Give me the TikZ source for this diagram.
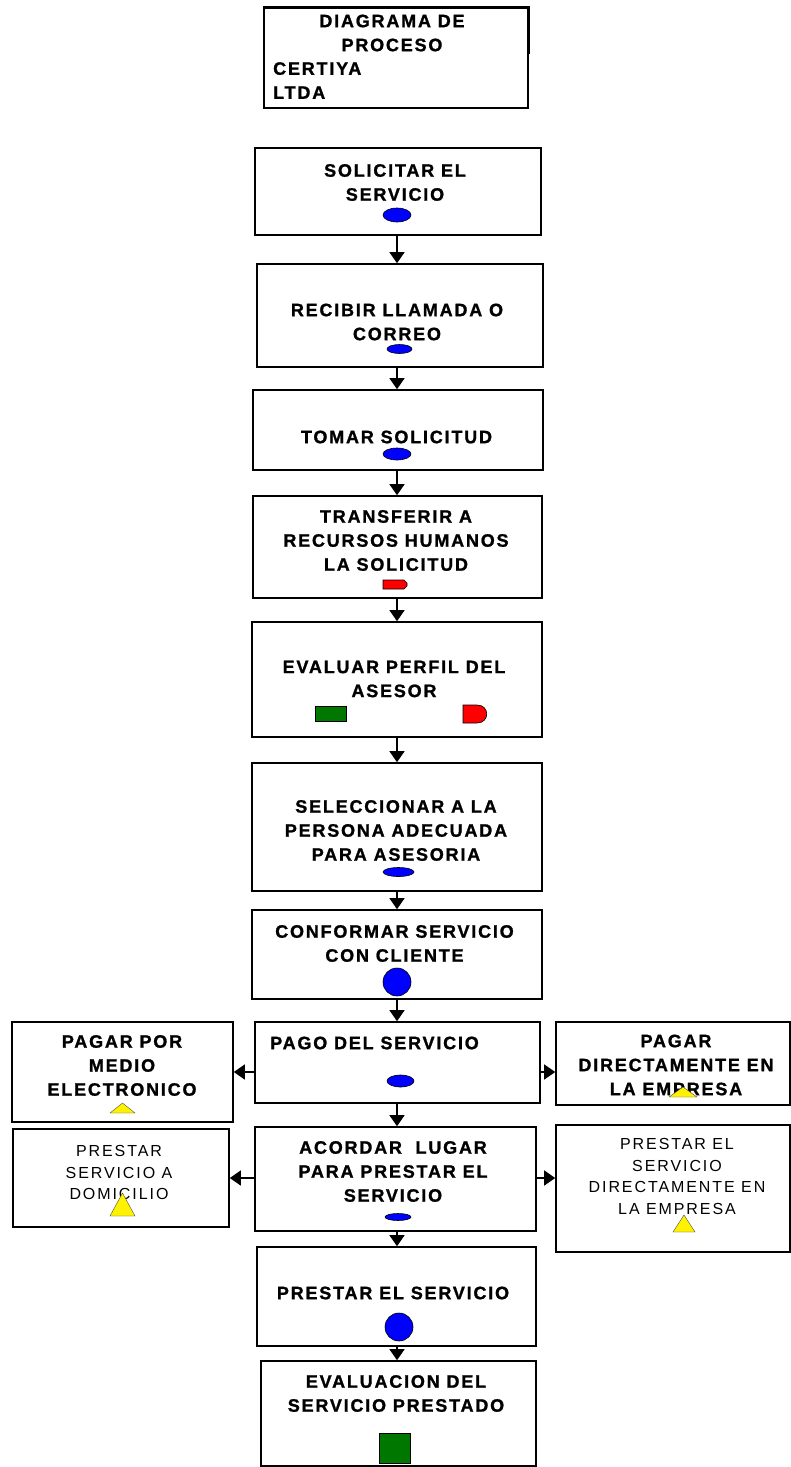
\documentclass[tikz,border=0pt]{standalone}
\usepackage{fontspec}
\newfontfamily\stepfont[LetterSpace=10, BoldFeatures={FakeBold=1.2}]{Liberation Sans}
\newfontfamily\thinfont[LetterSpace=12]{Liberation Sans}
\usetikzlibrary{arrows.meta,fit}
\definecolor{stepgreen}{RGB}{0,120,0}
\tikzset{
  stepbox/.style={draw, line width=1.6pt, inner sep=0pt},
  boldtext/.style={font=\fontsize{18}{24}\selectfont\stepfont\bfseries, align=center, inner sep=0pt},
  thintext/.style={font=\fontsize{16}{21.5}\selectfont\thinfont, align=center, inner sep=0pt},
  flow/.style={line width=1.3pt, -{Triangle[width=15pt,length=11pt]}},
  blueicon/.style={draw=black, line width=0.6pt, fill=blue},
  redicon/.style={draw=black, line width=0.6pt, fill=red},
  greenicon/.style={draw=black, line width=0.6pt, fill=stepgreen},
  yellowicon/.style={draw=black!70, line width=0.4pt, fill=yellow}
}
\begin{document}
\begin{tikzpicture}[x=1pt,y=-1pt]
\useasboundingbox (0,0) rectangle (791,1467);
\coordinate (axis) at (397,0);
% boxes
\foreach \n/\xa/\ya/\xb/\yb in {title/264/8/528/108, solic/255/148/541/235, recib/257/264/543/367,
  tomar/253/390/543/470, transf/253/496/542/598, evalp/252/622/542/737, selec/252/763/542/891,
  conf/252/910/542/999, pago/255/1022/540/1103, acord/255/1127/536/1231, prest/257/1247/536/1346,
  evals/261/1361/536/1466, pelec/12/1022/233/1122, pdir/556/1022/790/1105,
  pdom/13/1129/229/1227, pemp/556/1125/790/1252}
  \node[stepbox, fit={(\xa,\ya) (\xb,\yb)}] (\n) {};
\draw[line width=2.5pt] (title.north west) -- (title.north east) -- ([yshift=-47pt]title.north east);
% texts
\node[boldtext] (ttitle) at (392,33) {DIAGRAMA DE\\PROCESO};
\node[boldtext, align=left, anchor=west] (tfirm) at (273,80.5) {CERTIYA\\LTDA};
\node[boldtext] (tsolic) at (395,182.5) {SOLICITAR EL\\SERVICIO};
\node[boldtext] (trecib) at (397,322) {RECIBIR LLAMADA O\\CORREO};
\node[boldtext] (ttomar) at (396.5,437) {TOMAR SOLICITUD};
\node[boldtext] (ttransf) at (396,540.5) {TRANSFERIR A\\RECURSOS HUMANOS\\LA SOLICITUD};
\node[boldtext] (tevalp) at (394,679) {EVALUAR PERFIL DEL\\ASESOR};
\node[boldtext] (tselec) at (396,830.5) {SELECCIONAR A LA\\PERSONA ADECUADA\\PARA ASESORIA};
\node[boldtext] (tconf) at (394.5,943.5) {CONFORMAR SERVICIO\\CON CLIENTE};
\node[boldtext, anchor=west] (tpago) at (270,1043) {PAGO DEL SERVICIO};
\node[boldtext] (tacord) at (393,1171.5) {ACORDAR\ \ LUGAR\\PARA PRESTAR EL\\SERVICIO};
\node[boldtext] (tprest) at (393,1293) {PRESTAR EL SERVICIO};
\node[boldtext] (tevals) at (396,1393.5) {EVALUACION DEL\\SERVICIO PRESTADO};
\node[boldtext] (tpelec) at (122,1065.5) {PAGAR POR\\MEDIO\\ELECTRONICO};
\node[boldtext] (tpdir) at (676,1065) {PAGAR\\DIRECTAMENTE EN\\LA EMPRESA};
\node[thintext] (tpdom) at (119,1172.5) {PRESTAR\\SERVICIO A\\DOMICILIO};
\node[thintext] (tpemp) at (677,1176.5) {PRESTAR EL\\SERVICIO\\DIRECTAMENTE EN\\LA EMPRESA};
% connectors
\foreach \a/\b in {solic/recib, recib/tomar, tomar/transf, transf/evalp, evalp/selec,
  selec/conf, conf/pago, pago/acord, acord/prest, prest/evals}
  \draw[flow] (\a.south -| axis) -- (\b.north -| axis);
\draw[flow] (pago.west |- pelec.east) -- (pelec.east);
\draw[flow] (pago.east |- pelec.east) -- (pdir.west |- pelec.east);
\draw[flow] (acord.west |- pdom.east) -- (pdom.east);
\draw[flow] (acord.east |- pdom.east) -- (pemp.west |- pdom.east);
% symbols
\foreach \x/\y/\rx/\ry in {397/215/14/7, 399.5/349/12.5/4.5, 397/454/14/6, 398.5/872/15.5/4.5,
  400.5/1081/13.5/6, 398/1217/13/3.5}
  \draw[blueicon] (\x,\y) ellipse [x radius=\rx, y radius=\ry];
\draw[blueicon] (397,982) circle [radius=14];
\draw[blueicon] (399,1327) circle [radius=14];
\draw[redicon] (383,580) -- (404,580) -- (407,583) -- (407,586) -- (404,589) -- (383,589) -- cycle;
\draw[redicon] (463,705) -- (477,705) .. controls (490,705) and (490,723) .. (477,723) -- (463,723) -- cycle;
\draw[greenicon] (315,706) rectangle (346,721);
\draw[greenicon] (379,1433) rectangle (410,1463);
\foreach \xa/\xb/\yb/\yt in {110/135/1113/1103, 669/697/1097/1087, 110/135/1216/1193, 673/695/1232/1215}
  \draw[yellowicon] (\xa,\yb) -- (\xb,\yb) -- ({(\xa+\xb)/2},\yt) -- cycle;
\end{tikzpicture}
\end{document}
